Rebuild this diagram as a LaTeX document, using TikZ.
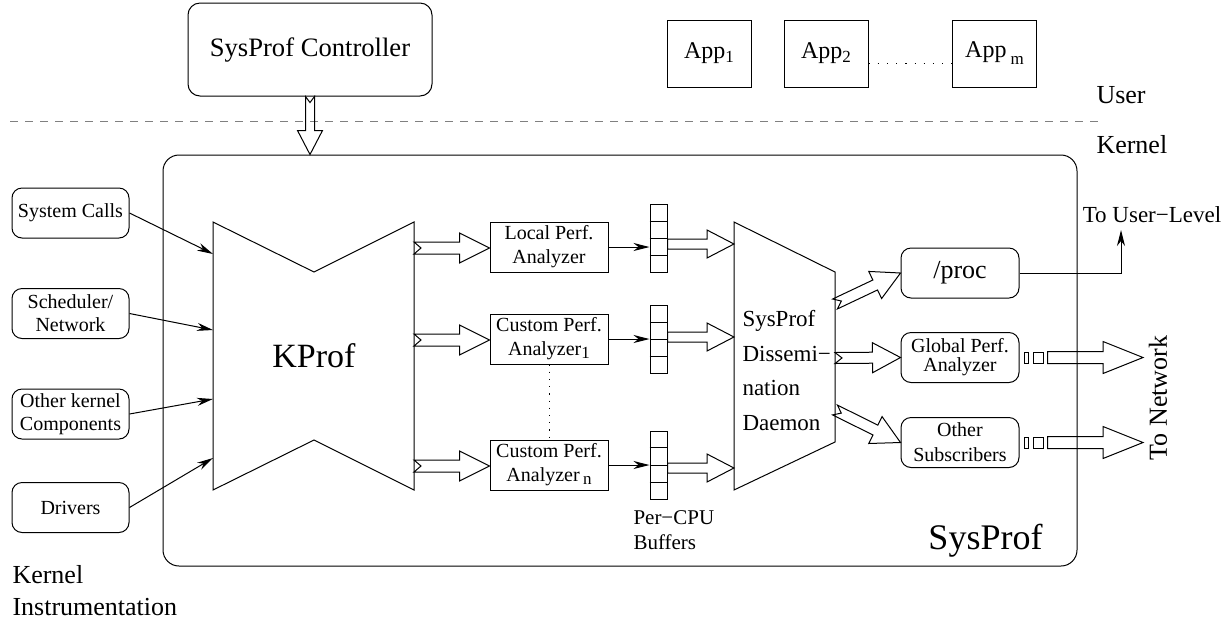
\documentclass[tikz,border=0pt]{standalone}
\usepackage{fontspec}
\setmainfont{Liberation Serif}
\usetikzlibrary{arrows.meta,calc}

\newcommand{\lowsub}[2][1.5pt]{\raisebox{-#1}{\fontsize{8.5}{9}\selectfont #2}}
% hollow xfig-like arrow: [notch]{from}{to}{shaft half}{head half}{head length}
\newcommand{\fatarrow}[6][3.5pt]{%
  \coordinate (fa-a) at (#2);
  \coordinate (fa-b) at (#3);
  \coordinate (fa-h) at ($(fa-b)!#6!(fa-a)$);
  \draw[fatline] ($(fa-a)!#4!90:(fa-b)$) -- ($(fa-h)!#4!90:(fa-b)$)
    -- ($(fa-h)!#5!90:(fa-b)$) -- (fa-b) -- ($(fa-h)!#5!-90:(fa-b)$)
    -- ($(fa-h)!#4!-90:(fa-b)$) -- ($(fa-a)!#4!-90:(fa-b)$)
    -- ($(fa-a)!#1!(fa-b)$) -- cycle;
}

\begin{document}
\begin{tikzpicture}[
    x=0.5pt, y=-0.5pt, line width=0.5pt,
    every node/.style={inner sep=0pt},
    srcbox/.style={draw, rounded corners=5pt, align=center, minimum width=58.5pt,
        minimum height=25pt, font=\fontsize{10}{11.5}\selectfont},
    anabox/.style={draw, align=center, minimum width=59pt, minimum height=25pt,
        font=\fontsize{10}{12}\selectfont},
    outbox/.style={draw, rounded corners=5pt, align=center, minimum width=59pt,
        minimum height=25pt},
    appbox/.style={draw, minimum width=42pt, minimum height=33.5pt,
        font=\fontsize{12}{14}\selectfont},
    bufbox/.style={draw, minimum width=8.5pt, minimum height=34pt},
    slot/.style={draw, minimum height=5.5pt},
    thinarrow/.style={-{Stealth[length=8pt, width=4pt, inset=2.5pt]}},
    fatline/.style={draw, line join=miter},
    lbl/.style={font=\fontsize{13}{16}\selectfont}
]
    \useasboundingbox (0,0) rectangle (1228,623);

    % user level
    \node[draw, rounded corners=6pt, minimum width=122pt, minimum height=46.5pt,
        font=\fontsize{13.3}{15}\selectfont] (ctrl) at (310,49.5) {SysProf Controller};
    \node[appbox] (app1) at (709,53.5) {App\lowsub[2pt]{1}};
    \node[appbox] (app2) at (826,53.5) {App\lowsub[2pt]{2}};
    \node[appbox] (appm) at (994.5,53.5) {App\,\lowsub[3.5pt]{m}};
    \draw[dash pattern=on 0.6pt off 4pt] ([yshift=-4.75pt]app2.east) -- ([yshift=-4.75pt]appm.west);

    \coordinate (sepl) at (10,121);
    \coordinate (sepr) at (1102,121);
    \draw[gray, dash pattern=on 4pt off 3.5pt] (sepl) -- (sepr);
    \node[lbl, anchor=base west] (user) at (1096,103) {User};
    \node[lbl, anchor=base west] (kern) at (1096,153) {Kernel};

    % kernel
    \node[draw, rounded corners=8pt, minimum width=457pt, minimum height=205.5pt] (sysprof) at (620,360.5) {};
    \node[font=\fontsize{18}{20}\selectfont, anchor=base] (sysproflbl) at (985.5,549) {SysProf};
    \fatarrow[3pt]{ctrl.south}{ctrl.south |- sysprof.north}{2.25pt}{6.25pt}{12pt}

    \node[srcbox] (sc) at (70.5,213) {System Calls};
    \node[srcbox] (sn) at (70.5,313.5) {Scheduler/\\Network};
    \node[srcbox] (ok) at (70.5,414) {Other kernel\\Components};
    \node[srcbox] (dr) at (70.5,507.5) {Drivers};

    \draw (213,222) -- (314,272) -- (414,222) -- (414,490) -- (314,440) -- (213,490) -- cycle;
    \node[font=\fontsize{17}{20}\selectfont] (kprof) at (314,356) {KProf};
    \foreach \n/\y in {1/254, 2/330, 3/399, 4/458}
        \coordinate (kin\n) at (213,\y);
    \foreach \s/\n in {sc/1, sn/2, ok/3, dr/4}
        \draw[thinarrow] (\s.east) -- (kin\n);

    \node[anabox] (ana0) at (549,247) {Local Perf.\\Analyzer};
    \node[anabox] (ana1) at (549,339) {Custom Perf.\\Analyzer\lowsub{1}};
    \node[anabox] (anan) at (549,465) {Custom Perf.\\Analyzer\,\lowsub{n}};
    \draw[dash pattern=on 0.6pt off 3pt] (ana1.south) -- (anan.north);

    \foreach \n/\y in {0/248, 1/340, n/466}
        \coordinate (kout\n) at (414,\y);
    \fatarrow{kout0}{kout0 -| ana0.west}{3pt}{7.5pt}{15pt}
    \fatarrow{kout1}{kout1 -| ana1.west}{3pt}{7.5pt}{15pt}
    \fatarrow{koutn}{koutn -| anan.west}{3pt}{7.5pt}{15pt}

    \node[bufbox] (buf0) at (658.5,238.5) {};
    \node[bufbox] (buf1) at (658.5,339.5) {};
    \node[bufbox] (bufn) at (658.5,465) {};
    \foreach \b in {buf0, buf1, bufn}
        \foreach \k in {0.25, 0.5, 0.75}
            \draw ($(\b.north west)!\k!(\b.south west)$) -- ($(\b.north east)!\k!(\b.south east)$);
    \foreach \a/\b in {ana0/buf0, ana1/buf1, anan/bufn}
        \draw[thinarrow] (\a.east) -- (\a.east -| \b.west);
    \node[anchor=north west, align=left, font=\fontsize{10.5}{12.5}\selectfont] (pcpu) at (633,510) {Per−CPU\\Buffers};

    % dissemination daemon
    \draw (734,222) -- (835,272) -- (835,442) -- (734,490) -- cycle;
    \node[anchor=north west, align=left, font=\fontsize{11.5}{17.25}\selectfont] (daemon) at (742,310)
        {SysProf\\Dissemi−\\nation\\Daemon};
    \coordinate (din0) at (734,244);
    \coordinate (din1) at (734,337);
    \coordinate (dinn) at (734,468);
    \fatarrow[0pt]{buf0.east |- din0}{din0}{2.5pt}{7pt}{13.5pt}
    \fatarrow[0pt]{buf1.east |- din1}{din1}{2.5pt}{7pt}{13.5pt}
    \fatarrow[0pt]{bufn.east |- dinn}{dinn}{2.5pt}{7pt}{13.5pt}

    \node[outbox, font=\fontsize{13}{15}\selectfont] (proc) at (960,273) {/proc};
    \node[outbox, font=\fontsize{10}{9.5}\selectfont] (gpa) at (960,357.5) {Global Perf.\\Analyzer};
    \node[outbox, font=\fontsize{10}{12.5}\selectfont] (oth) at (960,442.5) {Other\\Subscribers};
    \coordinate (dout1) at (835,304);
    \coordinate (dout2) at (835,358);
    \coordinate (dout3) at (835,410);
    \fatarrow{dout1}{proc.west}{2.75pt}{7.5pt}{14pt}
    \fatarrow{dout2}{gpa.west}{2.75pt}{7.5pt}{14pt}
    \fatarrow{dout3}{oth.west}{2.75pt}{7.5pt}{14pt}

    \node[font=\fontsize{11.5}{13}\selectfont, anchor=base] (touser) at (1152,222) {To User−Level};
    \coordinate (up) at (1121,230);
    \draw[thinarrow] (proc.east) -| (up);

    \node[slot, minimum width=2pt] (gq1) at (1026,357.5) {};
    \node[slot, minimum width=5pt] (gq2) at (1038,357.5) {};
    \node[slot, minimum width=2pt] (oq1) at (1026,442.5) {};
    \node[slot, minimum width=5pt] (oq2) at (1038,442.5) {};
    \coordinate (gnet) at (1143,357.5);
    \coordinate (onet) at (1143,442.5);
    \fatarrow[0pt]{[xshift=2pt]gq2.east}{gnet}{3pt}{8pt}{20pt}
    \fatarrow[0pt]{[xshift=2pt]oq2.east}{onet}{3pt}{8pt}{20pt}
    \node[lbl, rotate=90] (tonet) at (1158,398) {To Network};

    \node[lbl, anchor=north west, align=left] (kinst) at (12,565) {Kernel\\Instrumentation};
\end{tikzpicture}
\end{document}
